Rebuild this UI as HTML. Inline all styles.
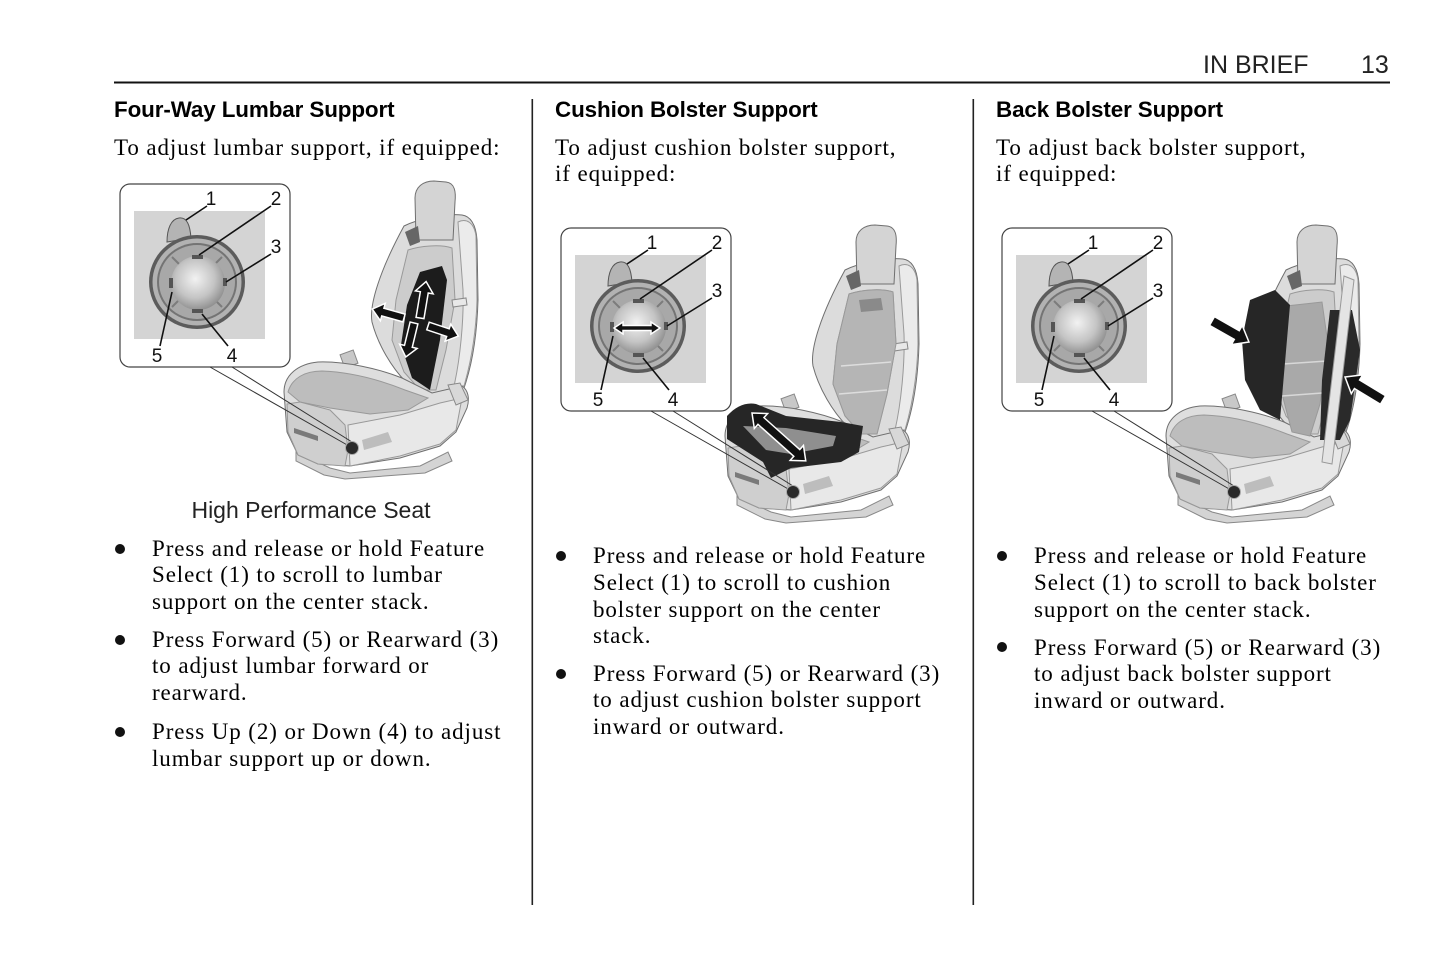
<!DOCTYPE html>
<html><head><meta charset="utf-8">
<style>
html,body{margin:0;padding:0;background:#fff;}
#pg{position:relative;width:1445px;height:965px;overflow:hidden;background:#fff;}
.t{position:absolute;white-space:nowrap;color:#000;}
.body{font-family:"Liberation Serif",serif;font-size:23px;letter-spacing:0.9px;line-height:26.7px;}
.h{font-family:"Liberation Sans",sans-serif;font-weight:bold;font-size:22.4px;line-height:26px;letter-spacing:-0.1px;}
.hd{font-family:"Liberation Sans",sans-serif;font-size:25px;line-height:28px;color:#222;}
.cap{font-family:"Liberation Sans",sans-serif;font-size:23px;line-height:26px;color:#222;}
.dot{position:absolute;width:10px;height:10px;border-radius:50%;background:#111;}
svg{position:absolute;left:0;top:0;}
</style></head><body><div id="pg">

<svg width="1445" height="965" viewBox="0 0 1445 965">
<defs>
<radialGradient id="sph" cx="0.45" cy="0.42" r="0.6">
<stop offset="0" stop-color="#f2f2f2"/><stop offset="0.6" stop-color="#c4c4c4"/><stop offset="1" stop-color="#8e8e8e"/>
</radialGradient>
<g id="base">
<rect x="120" y="184" width="170" height="183" rx="10" fill="#fff" stroke="#444" stroke-width="1.2"/>
<rect x="134" y="211" width="131" height="128" fill="#d4d4d4"/>
<path d="M167,242 C167,229 171,219 179,218 C187,217 190,225 191,238 Z" fill="#b4b4b4" stroke="#555"/>
<ellipse cx="197" cy="282" rx="48" ry="47" fill="#5c5c5c"/>
<ellipse cx="197" cy="282" rx="44.5" ry="43.5" fill="#b2b2b2"/>
<ellipse cx="197" cy="282" rx="40" ry="39" fill="#747474"/>
<ellipse cx="197" cy="282" rx="38" ry="37" fill="#a8a8a8"/>
<path d="M172,257 L185,270 M222,257 L209,270 M172,307 L185,294 M222,307 L209,294" stroke="#7c7c7c" stroke-width="2"/>
<circle cx="198" cy="283" r="27" fill="url(#sph)"/>
<rect x="192" y="255" width="11" height="4" fill="#555"/>
<rect x="223" y="278" width="4" height="8" fill="#555"/>
<rect x="192" y="309" width="11" height="4" fill="#555"/>
<rect x="169" y="278" width="4" height="10" fill="#555"/>
<g stroke="#111" stroke-width="1.6" fill="none">
<path d="M207,206 L186,220"/><path d="M271,206 L199,255"/><path d="M271,254 L226,282"/>
<path d="M160,346 L172,292"/><path d="M228,346 L202,314"/>
</g>
<path d="M296,452 L330,468 L350,473 L420,466 L448,452 L452,461 L425,473 L345,479 L324,475 L296,461 Z" fill="#d4d4d4" stroke="#888"/>
<path d="M404,226 C418,219 445,213 462,215 C470,216 476,224 477,240 L478,300 C477,335 472,365 464,388 L432,396 L406,382 C392,368 378,345 372,322 C369,305 380,270 404,226 Z" fill="#dcdcdc" stroke="#6f6f6f"/>
<path d="M458,222 C466,218 474,222 476,236 L477,300 C476,335 471,362 464,386 L454,386 C460,360 464,320 463,290 Z" fill="#ebebeb" stroke="#999"/>
<path d="M408,250 C420,246 440,244 452,248 L455,300 L446,350 L436,390 L420,390 L404,372 L392,340 L396,300 Z" fill="#cccccc" stroke="#999"/>
<path d="M416,240 L415,198 C415,187 423,181 434,181 L446,182 C455,183 456,192 455,202 L453,240 Z" fill="#d4d4d4" stroke="#6f6f6f"/>
<path d="M405,232 L418,226 L420,242 L410,246 Z" fill="#666"/>
<path d="M452,300 L466,298 L467,305 L453,307 Z" fill="#e8e8e8" stroke="#888"/>
<rect x="342" y="352" width="14" height="14" fill="#c8c8c8" stroke="#888" transform="rotate(-20 349 359)"/>
<path d="M284,392 C284,375 298,364 318,362 C345,361 380,369 402,378 L432,393 L462,386 C468,390 470,398 467,408 L456,432 L440,446 L400,458 L350,466 L318,464 L298,455 L287,432 Z" fill="#dedede" stroke="#6f6f6f"/>
<path d="M288,392 C292,378 305,371 322,371 C350,372 380,380 405,390 L428,398 L408,410 L370,414 L330,408 L300,402 Z" fill="#bdbdbd" stroke="#999"/>
<path d="M287,404 L300,402 L330,410 L345,425 L348,450 L345,466 L318,464 L298,455 L288,432 Z" fill="#cfcfcf" stroke="#999"/>
<path d="M294,428 L318,436 L318,441 L294,433 Z" fill="#7a7a7a"/>
<path d="M348,425 L400,415 L440,403 L462,398 L456,430 L440,444 L400,456 L350,466 Z" fill="#e8e8e8" stroke="#999"/>
<path d="M362,440 L388,432 L392,442 L364,450 Z" fill="#bdbdbd"/>
<path d="M448,385 L460,383 L468,400 L456,405 Z" fill="#d8d8d8" stroke="#888"/>
</g>
<g id="call">
<path d="M210,367 L349,446 M232,367 L352,442" stroke="#333" stroke-width="1" fill="none"/>
<circle cx="352" cy="448" r="6.5" fill="#2a2a2a" stroke="#aaa"/>
</g>
</defs>

<rect x="114" y="81.5" width="1276" height="2" fill="#111"/>
<rect x="531.5" y="99" width="1.6" height="806" fill="#222"/>
<rect x="972.5" y="99" width="1.6" height="806" fill="#222"/>

<!-- FIGURE 1 -->
<use href="#base"/>
<path d="M420,272 L442,266 L447,280 L440,340 L430,390 L412,378 L401,345 L407,305 Z" fill="#1c1c1c"/>
<g fill="#111" stroke="#fff" stroke-width="1.5">
<polygon points="0,-4 26,-4 26,-9 37,0 26,9 26,4 0,4" transform="translate(420,318) rotate(-80.5)"/>
<polygon points="0,-4 24,-4 24,-9 35,0 24,9 24,4 0,4" transform="translate(414,323) rotate(103.6)"/>
<polygon points="0,-4 22,-4 22,-9 33,0 22,9 22,4 0,4" transform="translate(404,318) rotate(-164.3)"/>
<polygon points="0,-4 21,-4 21,-9 32,0 21,9 21,4 0,4" transform="translate(428,326) rotate(18.4)"/>
</g>
<use href="#call"/>

<!-- FIGURE 2 -->
<use href="#base" transform="translate(441,44)"/>
<g transform="translate(441,44)">
<path d="M408,250 C420,246 440,244 452,248 L455,300 L446,350 L436,390 L420,390 L404,372 L392,340 L396,300 Z" fill="#b5b5b5" stroke="#999"/>
<path d="M400,322 L450,318 M398,350 L446,346" stroke="#ddd" stroke-width="1.5"/>
<path d="M418,256 L440,254 L442,266 L420,268 Z" fill="#8a8a8a"/>
<path d="M286,372 C295,362 305,358 315,360 L345,372 L400,378 L422,382 L418,408 L400,418 L350,424 L330,434 L322,418 L300,404 L286,395 Z" fill="#262626"/>
<path d="M302,382 L345,384 L395,392 L392,402 L350,410 L325,406 Z" fill="#8f8f8f"/>
<g fill="#111" stroke="#fff" stroke-width="1.5">
<polygon points="0,0 12,-10 12,-4.5 60,-4.5 60,-10 72,0 60,10 60,4.5 12,4.5 12,10" transform="translate(311,369) rotate(41.7)"/>
<polygon points="0,0 9,-6 9,-2.5 37,-2.5 37,-6 46,0 37,6 37,2.5 9,2.5 9,6" transform="translate(173,284)"/>
</g>
</g>
<use href="#call" transform="translate(441,44)"/>

<!-- FIGURE 3 -->
<use href="#base" transform="translate(882,44)"/>
<g transform="translate(882,44)">
<path d="M404,262 L440,258 L446,300 L438,360 L428,392 L410,388 L400,350 L402,300 Z" fill="#a9a9a9" stroke="#999"/>
<path d="M401,320 L445,317 M400,352 L440,349" stroke="#d8d8d8" stroke-width="1.5"/>
<polygon points="368,256 393,246 408,261 398,376 378,366 363,336 360,296" fill="#262626"/>
<polygon points="448,266 470,266 478,306 468,376 458,396 438,396 440,336" fill="#2a2a2a"/>
<polygon points="462,232 472,236 450,420 440,418" fill="#e4e4e4" stroke="#999"/>
<g fill="#111" stroke="#fff" stroke-width="1.5">
<polygon points="0,-5 28.5,-5 28.5,-11 42.5,0 28.5,11 28.5,5 0,5" transform="translate(330,277) rotate(29.6)"/>
<polygon points="0,-5 30.4,-5 30.4,-11 44.4,0 30.4,11 30.4,5 0,5" transform="translate(501,356) rotate(-148.8)"/>
</g>
</g>
<use href="#call" transform="translate(882,44)"/>

<g font-family="Liberation Sans, sans-serif" font-size="19" fill="#111" text-anchor="middle">
<text x="211" y="205">1</text><text x="276" y="205">2</text><text x="276" y="253">3</text><text x="157" y="362">5</text><text x="232" y="362">4</text>
<text x="652" y="249">1</text><text x="717" y="249">2</text><text x="717" y="297">3</text><text x="598" y="406">5</text><text x="673" y="406">4</text>
<text x="1093" y="249">1</text><text x="1158" y="249">2</text><text x="1158" y="297">3</text><text x="1039" y="406">5</text><text x="1114" y="406">4</text>
</g>
</svg>

<div class="t hd" style="left:1203px;top:50.6px;">IN BRIEF</div>
<div class="t hd" style="left:1361px;top:50.6px;">13</div>

<div class="t h" style="left:114px;top:96.7px;">Four-Way Lumbar Support</div>
<div class="t h" style="left:555px;top:96.7px;">Cushion Bolster Support</div>
<div class="t h" style="left:996px;top:96.7px;">Back Bolster Support</div>

<div class="t body" style="left:114px;top:134.5px;">To adjust lumbar support, if equipped:</div>
<div class="t body" style="left:555px;top:134.5px;">To adjust cushion bolster support,<br>if equipped:</div>
<div class="t body" style="left:996px;top:134.5px;">To adjust back bolster support,<br>if equipped:</div>

<div class="t cap" style="left:311px;top:497px;transform:translateX(-50%);">High Performance Seat</div>

<div class="dot" style="left:115px;top:544px;"></div>
<div class="t body" style="left:152px;top:535.6px;">Press and release or hold Feature<br>Select (1) to scroll to lumbar<br>support on the center stack.</div>
<div class="dot" style="left:115px;top:635px;"></div>
<div class="t body" style="left:152px;top:626.6px;">Press Forward (5) or Rearward (3)<br>to adjust lumbar forward or<br>rearward.</div>
<div class="dot" style="left:115px;top:727px;"></div>
<div class="t body" style="left:152px;top:718.9px;">Press Up (2) or Down (4) to adjust<br>lumbar support up or down.</div>

<div class="dot" style="left:556px;top:551px;"></div>
<div class="t body" style="left:593px;top:543.2px;">Press and release or hold Feature<br>Select (1) to scroll to cushion<br>bolster support on the center<br>stack.</div>
<div class="dot" style="left:556px;top:669px;"></div>
<div class="t body" style="left:593px;top:660.6px;">Press Forward (5) or Rearward (3)<br>to adjust cushion bolster support<br>inward or outward.</div>

<div class="dot" style="left:997px;top:551px;"></div>
<div class="t body" style="left:1034px;top:543.2px;">Press and release or hold Feature<br>Select (1) to scroll to back bolster<br>support on the center stack.</div>
<div class="dot" style="left:997px;top:642px;"></div>
<div class="t body" style="left:1034px;top:634.6px;">Press Forward (5) or Rearward (3)<br>to adjust back bolster support<br>inward or outward.</div>

</div></body></html>
